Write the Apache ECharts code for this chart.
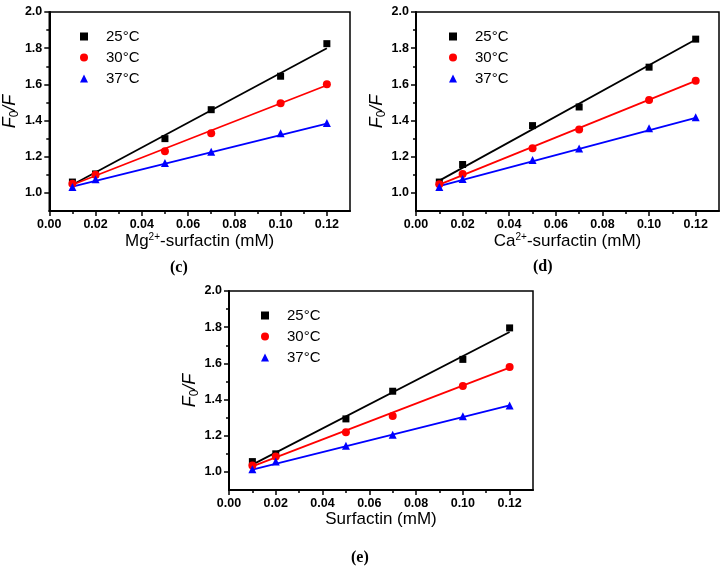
<!DOCTYPE html>
<html>
<head>
<meta charset="utf-8">
<script src="https://cdn.jsdelivr.net/npm/echarts@6/dist/echarts.min.js"></script>
<style>
html, body { margin: 0; padding: 0; background: #fff; }
#J_chart { width: 724px; height: 567px; }
</style>
</head>
<body>
<div id="J_chart"></div>
<script>
// concentrations (mM)
const X_VALS = [0.01, 0.02, 0.05, 0.07, 0.10, 0.12];
const FIT_X = [0.01, 0.12];
const TEMPS = ['25°C', '30°C', '37°C'];

// tick positions
const X_TICKS = [0, 0.02, 0.04, 0.06, 0.08, 0.10, 0.12];
const X_MINOR = [0.01, 0.03, 0.05, 0.07, 0.09, 0.11];
const Y_TICKS = [1.0, 1.2, 1.4, 1.6, 1.8, 2.0];
const Y_MINOR = [1.1, 1.3, 1.5, 1.7, 1.9];

// (c) Mg2+-surfactin
const mg25 = [1.06, 1.105, 1.30, 1.46, 1.645, 1.825];
const mg30 = [1.05, 1.10, 1.23, 1.33, 1.495, 1.60];
const mg37 = [1.033, 1.076, 1.166, 1.227, 1.33, 1.387];
const mgFit25 = [1.045, 1.80];
const mgFit30 = [1.045, 1.595];
const mgFit37 = [1.035, 1.383];

// (d) Ca2+-surfactin
const ca25 = [1.06, 1.157, 1.372, 1.475, 1.695, 1.85];
const ca30 = [1.048, 1.105, 1.247, 1.35, 1.513, 1.62];
const ca37 = [1.033, 1.077, 1.182, 1.245, 1.357, 1.418];
const caFit25 = [1.068, 1.848];
const caFit30 = [1.046, 1.619];
const caFit37 = [1.037, 1.415];

// (e) Surfactin
const sf25 = [1.057, 1.10, 1.293, 1.446, 1.622, 1.796];
const sf30 = [1.035, 1.085, 1.219, 1.309, 1.475, 1.58];
const sf37 = [1.015, 1.058, 1.145, 1.205, 1.307, 1.367];
const sfFit25 = [1.04, 1.773];
const sfFit30 = [1.031, 1.576];
const sfFit37 = [1.013, 1.368];

const COLORS = ['#000000', '#ff0000', '#0000ff'];
const SYMBOLS = ['rect', 'circle', 'triangle'];
const SYM_SIZE = [7, 8, 8];
const FONT = 'Liberation Sans, Arial, sans-serif';

function pair(xs, ys) {
    return xs.map((x, i) => [x, ys[i]]);
}

let options = {
    animation: false,
    backgroundColor: '#fff',
    grid: [],
    xAxis: [],
    yAxis: [],
    legend: [],
    series: [],
    graphic: []
};

function addPanel(p) {
    let g = options.grid.length;
    options.grid.push({
        left: p.left, top: p.top, width: p.width, height: 199,
        show: true,
        borderColor: '#000',
        borderWidth: 1.5,
        backgroundColor: 'transparent'
    });
    let xi = options.xAxis.length;
    // main x axis
    options.xAxis.push({
        type: 'value',
        gridIndex: g,
        position: 'bottom',
        min: 0,
        max: 0.13,
        name: p.xName,
        nameLocation: 'middle',
        nameGap: 21,
        nameTextStyle: {
            fontFamily: FONT,
            fontSize: 17,
            color: '#000',
            rich: {
                sup: { fontFamily: FONT, fontSize: 10, color: '#000', padding: [0, 0, 9, 0] }
            }
        },
        axisLine: { show: true, lineStyle: { color: '#000', width: 2 } },
        axisTick: { show: true, length: 5, customValues: X_TICKS, lineStyle: { color: '#000', width: 1.5 } },
        axisLabel: {
            customValues: X_TICKS,
            margin: 7,
            fontFamily: FONT,
            fontWeight: 'bold',
            fontSize: 12.5,
            color: '#000',
            formatter: v => v.toFixed(2)
        },
        splitLine: { show: false }
    });
    // minor ticks on x
    options.xAxis.push({
        type: 'value',
        gridIndex: g,
        position: 'bottom',
        min: 0,
        max: 0.13,
        axisLine: { show: false },
        axisTick: { show: true, length: 3, customValues: X_MINOR, lineStyle: { color: '#000', width: 1.5 } },
        axisLabel: { show: false },
        splitLine: { show: false }
    });
    let yi = options.yAxis.length;
    options.yAxis.push({
        type: 'value',
        gridIndex: g,
        position: 'left',
        min: 0.9,
        max: 2.0,
        name: '{it|F}{sub|0}{it|/F}',
        nameLocation: 'middle',
        nameGap: 28,
        nameRotate: 90,
        nameTextStyle: {
            color: '#000',
            rich: {
                it: { fontFamily: FONT, fontSize: 18, fontStyle: 'italic', color: '#000' },
                sub: { fontFamily: FONT, fontSize: 12, color: '#000', padding: [10, 0, 0, 0] }
            }
        },
        axisLine: { show: true, lineStyle: { color: '#000', width: 2 } },
        axisTick: { show: true, length: 5, customValues: Y_TICKS, lineStyle: { color: '#000', width: 1.5 } },
        axisLabel: {
            customValues: Y_TICKS,
            margin: 7,
            fontFamily: FONT,
            fontWeight: 'bold',
            fontSize: 12.5,
            color: '#000',
            formatter: v => v.toFixed(1)
        },
        splitLine: { show: false }
    });
    options.yAxis.push({
        type: 'value',
        gridIndex: g,
        position: 'left',
        min: 0.9,
        max: 2.0,
        axisLine: { show: false },
        axisTick: { show: true, length: 3, customValues: Y_MINOR, lineStyle: { color: '#000', width: 1.5 } },
        axisLabel: { show: false },
        splitLine: { show: false }
    });

    // fitted lines
    p.fits.forEach((f, k) => {
        options.series.push({
            type: 'line',
            xAxisIndex: xi,
            yAxisIndex: yi,
            data: pair(FIT_X, f),
            symbol: 'none',
            silent: true,
            lineStyle: { color: COLORS[k], width: 1.8 }
        });
    });
    // measured points
    p.sets.forEach((s, k) => {
        options.series.push({
            type: 'scatter',
            name: TEMPS[k],
            xAxisIndex: xi,
            yAxisIndex: yi,
            data: pair(X_VALS, s),
            symbol: SYMBOLS[k],
            symbolSize: SYM_SIZE[k],
            itemStyle: { color: COLORS[k], opacity: 1 },
            z: 3
        });
    });

    options.legend.push({
        data: TEMPS,
        orient: 'vertical',
        left: p.legendLeft,
        top: p.legendTop,
        itemWidth: 8,
        itemHeight: 8,
        itemGap: 4,
        selectedMode: false,
        textStyle: {
            fontFamily: FONT,
            fontSize: 15,
            lineHeight: 17,
            color: '#000',
            padding: [0, 0, 0, 13]
        }
    });

    options.graphic.push({
        type: 'text',
        left: p.tagX,
        top: p.tagY,
        style: {
            text: p.tag,
            font: 'bold 16px "Liberation Serif", "DejaVu Serif", serif',
            fill: '#000'
        }
    });
}

addPanel({
    left: 48, top: 12, width: 302,
    xName: 'Mg{sup|2+}-surfactin (mM)',
    sets: [mg25, mg30, mg37],
    fits: [mgFit25, mgFit30, mgFit37],
    legendLeft: 75, legendTop: 23,
    tag: '(c)', tagX: 170, tagY: 260
});
addPanel({
    left: 416, top: 12, width: 303,
    xName: 'Ca{sup|2+}-surfactin (mM)',
    sets: [ca25, ca30, ca37],
    fits: [caFit25, caFit30, caFit37],
    legendLeft: 444, legendTop: 23,
    tag: '(d)', tagX: 533, tagY: 259
});
addPanel({
    left: 229, top: 291, width: 304,
    xName: 'Surfactin (mM)',
    sets: [sf25, sf30, sf37],
    fits: [sfFit25, sfFit30, sfFit37],
    legendLeft: 256, legendTop: 302,
    tag: '(e)', tagX: 351, tagY: 550
});

let chart = echarts.init(document.getElementById('J_chart'), null, { renderer: 'canvas' });
chart.setOption(options);
</script>
</body>
</html>
